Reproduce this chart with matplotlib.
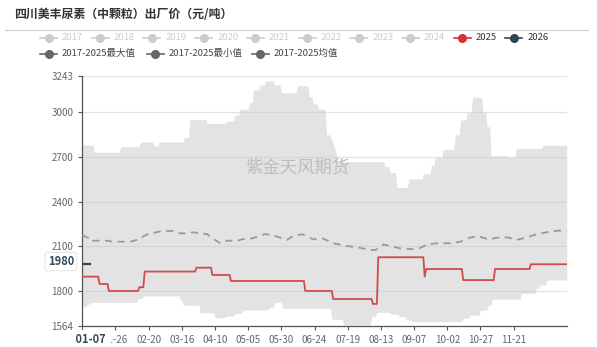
import matplotlib
matplotlib.use('Agg')
import matplotlib.pyplot as plt
from matplotlib.lines import Line2D
import pandas as pd
import numpy as np

plt.rcParams['font.family'] = ['Noto Sans CJK SC', 'DejaVu Sans']

# 2017-2025 最大值 (阶梯变化的起始日期, 数值)
max_dates = ['01-01', '01-10', '01-30', '02-14', '02-24', '02-28', '03-18', '03-22', '04-04', '04-19',
             '04-25', '04-29', '05-06', '05-09', '05-14', '05-18', '05-25', '05-30', '06-11', '06-20',
             '06-23', '06-27', '07-03', '07-07', '07-09', '07-11', '08-16', '08-20', '08-25', '09-03',
             '09-14', '09-20', '09-23', '09-29', '10-08', '10-12', '10-17', '10-21', '10-29', '11-01',
             '11-04', '11-17', '11-23', '12-13', '12-31']
max_vals = [2780, 2731, 2768, 2800, 2773, 2800, 2829, 2950, 2925, 2941,
            2981, 3019, 3063, 3148, 3182, 3209, 3182, 3130, 3177, 3104,
            3055, 3019, 2847, 2802, 2750, 2668, 2634, 2594, 2496, 2552,
            2587, 2645, 2697, 2751, 2847, 2947, 2996, 3100, 2996, 2902,
            2706, 2697, 2757, 2778, 2778]

# 2017-2025 最小值
min_dates = ['01-01', '01-05', '01-08', '02-12', '02-16', '03-15', '03-17', '03-30', '04-10', '04-18',
             '04-25', '05-01', '05-21', '05-25', '05-31', '07-07', '07-16', '08-06', '08-10', '08-20',
             '08-27', '09-01', '09-06', '10-14', '10-19', '10-27', '11-02', '11-05', '11-27', '12-08',
             '12-11', '12-16', '12-31']
min_vals = [1695, 1713, 1725, 1752, 1767, 1740, 1705, 1655, 1622, 1633,
            1651, 1673, 1691, 1725, 1685, 1611, 1573, 1628, 1657, 1646,
            1630, 1606, 1595, 1618, 1639, 1673, 1706, 1746, 1785, 1819,
            1841, 1874, 1874]

# 2017-2025 均值
mean_dates = ['01-01', '01-05', '01-08', '01-09', '01-20', '01-24', '02-06', '02-11', '02-19', '03-01',
              '03-09', '03-15', '03-18', '03-24', '03-27', '03-30', '04-04', '04-08', '04-14', '04-19',
              '04-27', '05-01', '05-06', '05-12', '05-18', '05-27', '06-03', '06-08', '06-15', '06-23',
              '06-30', '07-08', '07-18', '07-26', '08-05', '08-09', '08-15', '08-22', '08-30', '09-06',
              '09-11', '09-17', '09-24', '10-04', '10-12', '10-19', '10-25', '11-02', '11-09', '11-17',
              '11-23', '12-01', '12-09', '12-18', '12-24', '12-31']
mean_vals = [2176, 2158, 2158, 2138, 2138, 2131, 2131, 2143, 2181, 2203,
             2203, 2187, 2187, 2194, 2192, 2183, 2183, 2154, 2121, 2138,
             2138, 2149, 2149, 2165, 2183, 2165, 2143, 2170, 2181, 2147,
             2154, 2121, 2103, 2094, 2076, 2076, 2113, 2098, 2082, 2082,
             2087, 2113, 2121, 2121, 2131, 2158, 2170, 2147, 2158, 2160,
             2143, 2160, 2183, 2198, 2205, 2205]

# 2025
y2025_dates = ['01-01', '01-14', '01-21', '02-13', '02-17', '03-27', '04-08', '04-22', '06-17', '07-08',
               '08-07', '08-11', '09-15', '09-16', '10-14', '11-07', '12-04', '12-31']
y2025_vals = [1897, 1848, 1801, 1826, 1931, 1957, 1908, 1868, 1801, 1747,
              1714, 2027, 1897, 1948, 1874, 1948, 1980, 1980]

# 2026
y2026_dates = ['01-01', '01-07']
y2026_vals = [1980, 1980]

years = ['2017', '2018', '2019', '2020', '2021', '2022', '2023', '2024', '2025', '2026']
stat_names = ['2017-2025最大值', '2017-2025最小值', '2017-2025均值']
yticks = [1564, 1800, 2100, 2400, 2700, 3000, 3243]


def doy(d):
    return pd.Timestamp('2024-' + d).dayofyear - 1


def daily(dates, vals):
    s = pd.Series(vals, index=[doy(d) for d in dates], dtype=float)
    s = s[~s.index.duplicated(keep='last')]
    return s.reindex(range(366)).ffill().values


W, H = 597, 347
fig = plt.figure(figsize=(W / 100, H / 100), dpi=100)
ax = fig.add_axes([82.3 / W, 1 - 326.3 / H, (566.7 - 82.3) / W, (326.3 - 75.9) / H])

days = np.arange(366)
hi = daily(max_dates, max_vals)
lo = daily(min_dates, min_vals)
ax.fill_between(days, lo, hi, color='#e3e3e3', lw=0, zorder=1)

for v in yticks[1:]:
    ax.axhline(v, color='#c8c8c8', alpha=0.5, lw=0.9, zorder=2)

ax.plot([doy(d) for d in mean_dates], mean_vals, color='#9a9a9a', lw=1.3,
        dashes=(4, 3), zorder=3)
ax.plot(days, daily(y2025_dates, y2025_vals), color='#d24b4b', lw=1.3, zorder=4)
ax.plot([doy(d) for d in y2026_dates], y2026_vals, color='#2f4554', lw=1.6, zorder=4)

ax.set_xlim(0, 365)
ax.set_ylim(1564, 3243)
ax.set_yticks(yticks)
ax.set_yticklabels([str(v) for v in yticks])
xt = list(range(0, 350, 25))
ax.set_xticks(xt)
xlabels = [(pd.Timestamp('2024-01-01') + pd.Timedelta(days=int(i))).strftime('%m-%d') for i in xt]
xlabels[0] = ''
ax.set_xticklabels(xlabels)
ax.tick_params(axis='both', colors='#555555', labelcolor='#666666', labelsize=7, length=3, width=0.8)
ax.tick_params(axis='x', pad=3)
for s in ['top', 'right']:
    ax.spines[s].set_visible(False)
for s in ['left', 'bottom']:
    ax.spines[s].set_color('#555555')
    ax.spines[s].set_linewidth(0.9)

# 水印
ax.text(0.445, 0.635, '紫金天风期货', transform=ax.transAxes, ha='center', va='center',
        fontsize=12.5, color='#bdbdbd', zorder=5)

# 指示器标签
ax.annotate(' 01-07 ', xy=(6, 1564), xytext=(0, -5), textcoords='offset points',
            ha='center', va='top', fontsize=8, fontweight='bold',
            color='#34495e', annotation_clip=False, zorder=10,
            bbox=dict(boxstyle='square,pad=0.25', fc='white', ec='none'))
ax.annotate('1980', xy=(0, 1980), xytext=(-6, 2), textcoords='offset points',
            ha='right', va='center', fontsize=8, fontweight='bold',
            color='#34495e', annotation_clip=False, zorder=10,
            bbox=dict(boxstyle='round,pad=0.25', fc='white', ec='#dddddd', lw=0.6))


def fx(px):
    return px / W


def fy(py):
    return 1 - py / H


# 标题
fig.text(fx(14), fy(15), '四川美丰尿素（中颗粒）出厂价（元/吨）', ha='left', va='center',
         fontsize=8.6, fontweight='bold', color='#333333')
fig.add_artist(Line2D([fx(5), fx(588)], [fy(30), fy(30)], color='#cccccc', lw=0.8))


# 图例
def legend_item(x, y, label, mcolor, tcolor):
    fig.add_artist(Line2D([fx(x), fx(x + 17)], [fy(y), fy(y)], color=mcolor, lw=1.2))
    fig.add_artist(Line2D([fx(x + 8.5)], [fy(y)], marker='o', markersize=5.5, color=mcolor, lw=0))
    fig.text(fx(x + 22), fy(y), label, ha='left', va='center', fontsize=6.8, color=tcolor)


for i, yr in enumerate(years):
    if yr == '2025':
        mc, tc = '#d03434', '#333333'
    elif yr == '2026':
        mc, tc = '#2f4554', '#333333'
    else:
        mc, tc = '#cccccc', '#cccccc'
    legend_item(40 + 51.7 * i, 38, yr, mc, tc)

for x0, name in zip([40, 146.7, 251.7], stat_names):
    legend_item(x0, 53.5, name, '#666666', '#444444')

fig.savefig('out.png', dpi=100)
